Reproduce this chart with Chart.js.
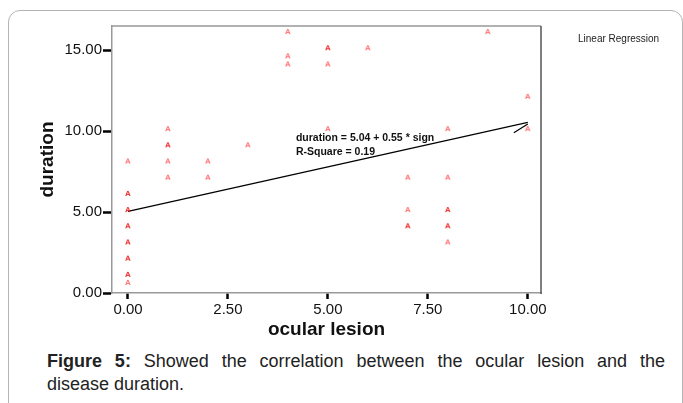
<!DOCTYPE html>
<html>
<head>
<meta charset="utf-8">
<script src="https://cdn.jsdelivr.net/npm/chart.js@4.4.0/dist/chart.umd.min.js"></script>
<style>
  body { margin: 0; width: 683px; height: 403px; overflow: hidden; background: #fff; position: relative; font-family: Arial, "Liberation Sans", sans-serif; }
  #frame { position: absolute; left: 8px; top: 10px; width: 673px; height: 420px; border: 1.5px solid #b4b4b4; border-radius: 12px; }
  #chart { position: absolute; left: 0; top: 0; }
  #caption { position: absolute; left: 47px; top: 350px; width: 618px; font-size: 18px; line-height: 23px; color: #222; }
  #caption .l1 { text-align: justify; text-align-last: justify; }
</style>
</head>
<body>
<div id="frame"></div>
<canvas id="chart" width="683" height="345"></canvas>
<div id="caption"><div class="l1"><b>Figure 5:</b> Showed the correlation between the ocular lesion and the</div><div>disease duration.</div></div>
<script>
// ocular lesion (x) vs disease duration (y), cases = how many patients share that point
const ocularLesion = [0, 0, 0, 0, 0, 0, 0, 0, 1, 1, 1, 1, 2, 2, 3, 4, 4, 4, 5, 5, 5, 6, 7, 7, 7, 8, 8, 8, 8, 8, 9, 10, 10];
const duration     = [8, 6, 5, 4, 3, 2, 1, 0.5, 10, 9, 8, 7, 8, 7, 9, 16, 14.5, 14, 15, 14, 10, 15, 7, 5, 4, 10, 7, 5, 4, 3, 16, 12, 10];
const cases        = [1, 2, 2, 2, 2, 2, 2, 1, 1, 2, 1, 1, 1, 1, 1, 1, 1, 1, 2, 1, 1, 1, 1, 1, 2, 1, 1, 2, 2, 1, 1, 1, 1];

// fitted line: duration = 5.04 + 0.55 * sign
const fitIntercept = 5.04;
const fitSlope = 0.55;
const fitRange = [0, 10];
// little stray stroke at the end of the fit line
const hookX = [9.65, 10];
const hookY = [9.9, 10.45];

const xTickValues = [0, 2.5, 5, 7.5, 10];
const xTickLabels = ['0.00', '2.50', '5.00', '7.50', '10.00'];
const yTickValues = [0, 5, 10, 15];
const yTickLabels = ['0.00', '5.00', '10.00', '15.00'];

function makeMarker(color) {
    const c = document.createElement('canvas');
    c.width = 10;
    c.height = 14;
    const g = c.getContext('2d');
    g.fillStyle = color;
    g.font = 'bold 8px Arial';
    g.textAlign = 'center';
    g.textBaseline = 'middle';
    g.fillText('A', 5, 5);
    return c;
}
const lightMarker = makeMarker('#ff7272');
const darkMarker = makeMarker('#ee2a2a');

const points = ocularLesion.map((x, i) => ({ x: x, y: duration[i] }));
const fitLine = fitRange.map(x => ({ x: x, y: fitIntercept + fitSlope * x }));
const hookLine = hookX.map((x, i) => ({ x: x, y: hookY[i] }));

const extras = {
    id: 'extras',
    afterDraw(chart) {
        const { ctx, chartArea, scales } = chart;
        ctx.save();
        // top and right edges of the plot box
        ctx.lineWidth = 1.5;
        ctx.strokeStyle = '#999';
        ctx.beginPath();
        ctx.moveTo(chartArea.left, chartArea.top);
        ctx.lineTo(chartArea.right, chartArea.top);
        ctx.stroke();
        ctx.strokeStyle = '#555';
        ctx.beginPath();
        ctx.moveTo(chartArea.right, chartArea.top);
        ctx.lineTo(chartArea.right, chartArea.bottom + 1);
        ctx.stroke();

        // equation label
        ctx.fillStyle = '#111';
        ctx.font = 'bold 10.5px Arial';
        ctx.textBaseline = 'alphabetic';
        ctx.textAlign = 'left';
        const ex = scales.x.getPixelForValue(4.2);
        ctx.fillText('duration = 5.04 + 0.55 * sign', ex, 141);
        ctx.fillText('R-Square = 0.19', ex, 155);

        ctx.font = '10px Arial';
        ctx.fillStyle = '#222';
        ctx.fillText('Linear Regression', 578, 42);
        ctx.restore();
    }
};

new Chart(document.getElementById('chart'), {
    type: 'scatter',
    data: {
        datasets: [
            {
                data: points,
                pointStyle: ctx => cases[ctx.dataIndex] > 1 ? darkMarker : lightMarker,
                pointRadius: 5,
                showLine: false
            },
            {
                type: 'line',
                data: fitLine,
                borderColor: '#000',
                borderWidth: 1.2,
                pointRadius: 0,
                fill: false
            },
            {
                type: 'line',
                data: hookLine,
                borderColor: '#000',
                borderWidth: 1.2,
                pointRadius: 0,
                fill: false
            }
        ]
    },
    options: {
        responsive: false,
        animation: false,
        devicePixelRatio: 1,
        layout: { padding: { top: 26, right: 142, left: 0, bottom: 0 } },
        plugins: {
            legend: { display: false },
            tooltip: { enabled: false }
        },
        scales: {
            x: {
                type: 'linear',
                min: -0.4,
                max: 10.33,
                afterBuildTicks: s => { s.ticks = xTickValues.map(v => ({ value: v })); },
                afterFit: s => { s.height = 52; },
                ticks: {
                    callback: (v, i) => xTickLabels[i],
                    font: { family: 'Arial', size: 15 },
                    color: '#111',
                    padding: 2,
                    maxRotation: 0
                },
                grid: { drawOnChartArea: false, drawTicks: true, tickLength: 6, tickWidth: 2.5, tickColor: '#000' },
                border: { color: '#999', width: 1.5 },
                title: {
                    display: true,
                    text: 'ocular lesion',
                    font: { family: 'Arial', size: 19, weight: 'bold' },
                    color: '#111',
                    padding: { top: 0, bottom: 4 }
                }
            },
            y: {
                type: 'linear',
                min: 0,
                max: 16.5,
                afterBuildTicks: s => { s.ticks = yTickValues.map(v => ({ value: v })); },
                afterFit: s => { s.width = 112; },
                ticks: {
                    callback: (v, i) => yTickLabels[i],
                    font: { family: 'Arial', size: 15 },
                    color: '#111',
                    padding: 1
                },
                grid: { drawOnChartArea: false, drawTicks: true, tickLength: 9, tickWidth: 2.5, tickColor: '#000' },
                border: { color: '#999', width: 1.5 },
                title: {
                    display: true,
                    text: 'duration',
                    font: { family: 'Arial', size: 19, weight: 'bold' },
                    color: '#111',
                    padding: { top: 36, bottom: 0 }
                }
            }
        }
    },
    plugins: [extras]
});
</script>
</body>
</html>
